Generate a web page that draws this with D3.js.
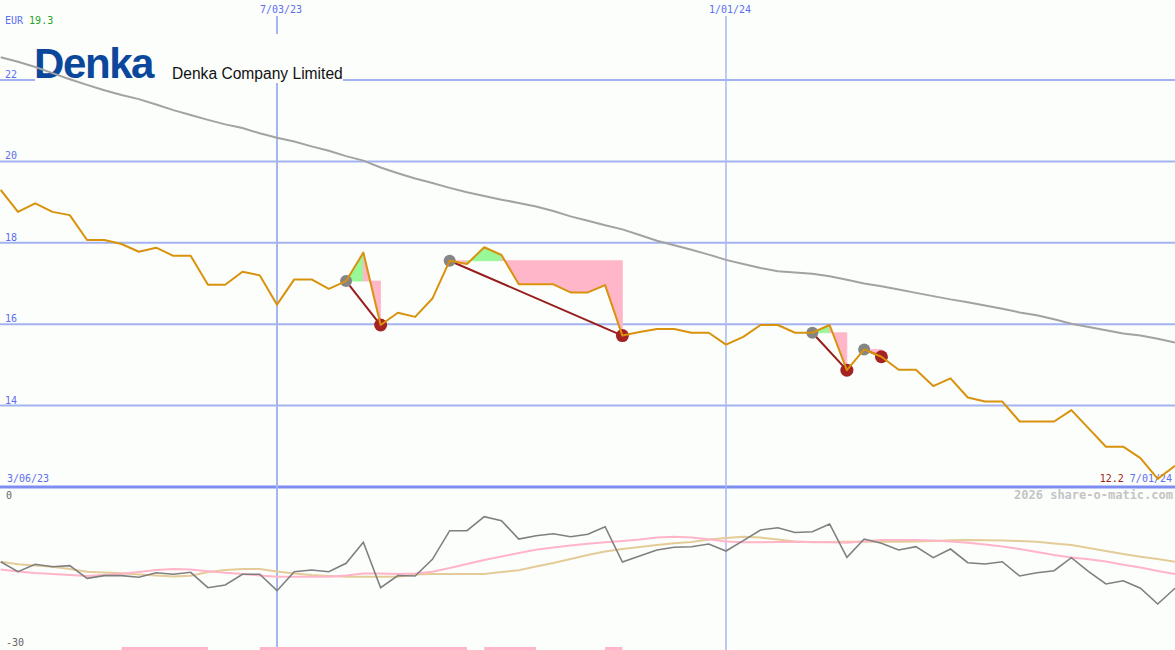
<!DOCTYPE html>
<html>
<head>
<meta charset="utf-8">
<script src="https://cdn.jsdelivr.net/npm/d3@7"></script>
<style>
html,body{margin:0;padding:0;background:#fcfefc;}
svg{display:block;}
</style>
</head>
<body>
<svg id="chart" width="1175" height="650"></svg>
<script>
// ---------- DATA ----------
const rangeStart = "2023-03-06";
const rangeEnd = "2024-07-01";
const firstWeek = "2023-03-13";
const markerDates = ["2023-07-03", "2024-01-01"];
const priceTicks = [14, 16, 18, 20, 22];
const lowerTicks = [0, -30];
const currency = "EUR";
const maxLabel = "19.3";
const minLabel = "12.2";

// weekly closing price (EUR)
const price = [19.30,18.76,18.97,18.76,18.68,18.07,18.07,17.97,17.78,17.88,
  17.68,17.68,16.97,16.97,17.29,17.20,16.48,17.10,17.10,16.87,
  17.06,17.76,15.98,16.28,16.18,16.63,17.56,17.48,17.89,17.70,
  16.98,16.98,16.98,16.78,16.78,16.96,15.72,15.81,15.88,15.88,
  15.79,15.79,15.50,15.69,15.98,15.98,15.79,15.79,15.98,14.87,
  15.38,15.20,14.88,14.88,14.48,14.67,14.20,14.10,14.10,13.61,
  13.61,13.61,13.89,13.44,12.99,12.99,12.71,12.20,12.52];

// long moving average
const movingAvg = [22.56,22.45,22.32,22.17,22.02,21.88,21.75,21.63,21.53,21.40,
  21.26,21.14,21.02,20.91,20.82,20.69,20.58,20.49,20.37,20.26,
  20.13,20.02,19.85,19.71,19.58,19.47,19.35,19.24,19.15,19.06,
  18.98,18.89,18.78,18.65,18.54,18.43,18.33,18.19,18.05,17.94,
  17.83,17.71,17.58,17.48,17.38,17.30,17.27,17.24,17.18,17.09,
  17.00,16.93,16.85,16.77,16.69,16.61,16.54,16.46,16.38,16.29,
  16.22,16.12,16.01,15.93,15.85,15.77,15.72,15.64,15.55];

// lower panel indicator
const oscillator = [-13.55,-15.41,-14.03,-14.48,-14.29,-16.64,-16.15,-16.15,-16.45,-15.60,
  -15.89,-15.52,-18.39,-17.89,-15.89,-15.89,-18.95,-15.41,-15.09,-15.41,
  -13.84,-9.93,-18.39,-16.12,-16.21,-13.10,-7.77,-7.77,-5.16,-5.91,
  -9.32,-8.70,-8.33,-8.89,-8.44,-7.02,-13.60,-12.48,-11.37,-10.86,
  -10.75,-10.25,-11.55,-9.63,-7.64,-7.21,-8.11,-7.96,-6.52,-12.73,
  -9.32,-10.12,-11.37,-10.75,-12.80,-11.18,-13.73,-13.97,-13.55,-16.21,
  -15.60,-15.22,-12.80,-15.41,-17.70,-17.09,-18.50,-21.43,-18.50];

const oscPink = [-14.98,-15.37,-15.65,-15.84,-16.02,-16.21,-16.02,-15.78,-15.46,-15.09,
  -14.91,-15.00,-15.33,-15.61,-15.84,-16.12,-16.34,-16.34,-16.34,-16.34,
  -16.12,-15.74,-15.74,-15.84,-15.74,-15.43,-14.72,-13.97,-13.23,-12.58,
  -11.92,-11.33,-10.90,-10.53,-10.21,-9.93,-9.69,-9.41,-9.04,-8.91,
  -9.04,-9.37,-9.78,-9.93,-9.93,-9.88,-9.84,-9.88,-9.93,-10.01,
  -9.74,-9.50,-9.50,-9.50,-9.60,-9.78,-10.01,-10.34,-10.71,-11.18,
  -11.74,-12.30,-12.76,-13.10,-13.51,-14.12,-14.63,-15.28,-15.84];

const oscTan = [-13.56,-14.03,-14.25,-14.48,-14.91,-15.41,-15.56,-15.71,-15.93,-16.12,
  -16.30,-16.17,-15.46,-15.09,-14.91,-14.91,-15.37,-15.74,-16.02,-16.21,
  -16.34,-16.34,-16.34,-16.34,-15.93,-15.84,-15.84,-15.84,-15.84,-15.46,
  -15.15,-14.44,-13.79,-13.04,-12.30,-11.65,-11.18,-10.81,-10.43,-10.12,
  -9.88,-9.41,-9.13,-8.91,-9.04,-9.41,-9.78,-9.91,-9.88,-9.84,
  -9.82,-9.82,-9.82,-9.78,-9.69,-9.56,-9.50,-9.56,-9.60,-9.69,
  -9.84,-10.15,-10.43,-10.99,-11.55,-12.11,-12.61,-13.04,-13.55];

// trades: entry / exit week
const tradeEntries = ["2023-07-31", "2023-09-11", "2024-02-05", "2024-02-26"];
const tradeExits   = ["2023-08-14", "2023-11-20", "2024-02-19", "2024-03-04"];

// bottom signal bars
const barStarts = ["2023-05-01", "2023-06-26", "2023-09-25", "2023-11-13"];
const barEnds   = ["2023-06-05", "2023-09-18", "2023-10-16", "2023-11-20"];

// ---------- DRAW ----------
const W = 1175, H = 650;
const parse = d3.utcParse("%Y-%m-%d");
const fmt = d3.utcFormat("%-m/%d/%y");
const weeks = d3.utcMonday.range(parse(firstWeek), d3.utcDay.offset(parse(rangeEnd), 1));
const svg = d3.select("#chart");

const x = d3.scaleUtc().domain([parse(markerDates[0]), parse(markerDates[1])]).range([277, 726]);
const y = d3.scaleLinear().domain([12, 22]).range([487, 80]);
const yl = d3.scaleLinear().domain([-30, 0]).range([650, 489]);

const mono = "'DejaVu Sans Mono', monospace";
const blue = "#5b6ff0";

svg.append("rect").attr("width", W).attr("height", H).attr("fill", "#fcfefc");

// horizontal grid
svg.append("g").selectAll("line").data(priceTicks).join("line")
  .attr("x1", 0).attr("x2", W).attr("y1", d => y(d)).attr("y2", d => y(d))
  .attr("stroke", "#a4b3f0").attr("stroke-width", 2);
// bottom axis line
svg.append("line").attr("x1", 0).attr("x2", W).attr("y1", y(12)).attr("y2", y(12))
  .attr("stroke", "#7d8df2").attr("stroke-width", 3);

// vertical markers
svg.append("g").selectAll("line").data(markerDates).join("line")
  .attr("x1", d => x(parse(d))).attr("x2", d => x(parse(d)))
  .attr("y1", 16).attr("y2", H)
  .attr("stroke", "#a8b6f0").attr("stroke-width", (d, i) => i === 0 ? 2 : 1.5);
svg.append("g").selectAll("text").data(markerDates).join("text")
  .attr("x", d => x(parse(d)) - 17).attr("y", 13)
  .attr("font-family", mono).attr("font-size", 10).attr("fill", blue)
  .text(d => fmt(parse(d)));

// y tick labels
svg.append("g").selectAll("text").data(priceTicks).join("text")
  .attr("x", 5).attr("y", d => y(d) - 2)
  .attr("font-family", mono).attr("font-size", 10).attr("fill", blue)
  .text(d => d);

// header labels
const hdr = svg.append("text").attr("x", 5).attr("y", 24).attr("font-family", mono).attr("font-size", 10);
hdr.append("tspan").attr("fill", blue).text(currency + " ");
hdr.append("tspan").attr("fill", "#26a326").text(maxLabel);

// logo box
svg.append("rect").attr("x", 35).attr("y", 34).attr("width", 308).attr("height", 49).attr("fill", "#fcfefc");
svg.append("text").attr("x", 34).attr("y", 78)
  .attr("font-family", "'Liberation Sans', Arial, sans-serif").attr("font-weight", "bold")
  .attr("font-size", 42).attr("letter-spacing", -1.4).attr("fill", "#0b489c").text("Denka");
svg.append("text").attr("x", 172).attr("y", 79)
  .attr("font-family", "'Liberation Sans', Arial, sans-serif")
  .attr("font-size", 15.6).attr("fill", "#111").text("Denka Company Limited");

// range labels
svg.append("text").attr("x", 7).attr("y", 482).attr("font-family", mono).attr("font-size", 10)
  .attr("fill", blue).text(fmt(parse(rangeStart)));
const rl = svg.append("text").attr("x", 1172).attr("y", 482).attr("text-anchor", "end")
  .attr("font-family", mono).attr("font-size", 10);
rl.append("tspan").attr("fill", "#a02020").text(minLabel + " ");
rl.append("tspan").attr("fill", blue).text(fmt(parse(rangeEnd)));
svg.append("text").attr("x", 1173).attr("y", 499).attr("text-anchor", "end")
  .attr("font-family", mono).attr("font-size", 12).attr("font-weight", "bold")
  .attr("fill", "#c4c4c4").text("2026 share-o-matic.com");

// moving average
const lineP = d3.line().x((d, i) => x(weeks[i])).y(d => y(d));
svg.append("path").datum(movingAvg).attr("d", lineP)
  .attr("fill", "none").attr("stroke", "#a2a2a2").attr("stroke-width", 2);

// trades
const idx = s => weeks.findIndex(w => +w === +parse(s));
const trades = tradeEntries.map((e, i) => ({ a: idx(e), b: idx(tradeExits[i]) }));
const fillG = svg.append("g");
trades.forEach(t => {
  const lvl = price[t.a];
  for (let k = t.a; k < t.b; k++) {
    const pts = [[x(weeks[k]), y(lvl)], [x(weeks[k + 1]), y(lvl)],
      [x(weeks[k + 1]), y(price[k + 1])], [x(weeks[k]), y(price[k])]];
    const col = price[k + 1] >= lvl ? "#98f898" : "#ffb6c9";
    fillG.append("path").attr("d", d3.line()(pts) + "Z")
      .attr("fill", col).attr("stroke", col).attr("stroke-width", 0.8)
      .attr("stroke-linejoin", "miter");
  }
});
svg.append("g").selectAll("line").data(trades).join("line")
  .attr("x1", t => x(weeks[t.a])).attr("y1", t => y(price[t.a]))
  .attr("x2", t => x(weeks[t.b])).attr("y2", t => y(price[t.b]))
  .attr("stroke", "#981c1c").attr("stroke-width", 2);
svg.append("g").selectAll("circle").data(trades).join("circle")
  .attr("cx", t => x(weeks[t.a])).attr("cy", t => y(price[t.a])).attr("r", 6)
  .attr("fill", "#858585");
svg.append("g").selectAll("circle").data(trades).join("circle")
  .attr("cx", t => x(weeks[t.b])).attr("cy", t => y(price[t.b])).attr("r", 6.5)
  .attr("fill", "#a52222");

// price line
svg.append("path").datum(price).attr("d", lineP)
  .attr("fill", "none").attr("stroke", "#d8920c").attr("stroke-width", 2)
  .attr("stroke-linejoin", "round");

// lower panel
svg.append("g").selectAll("text").data(lowerTicks).join("text")
  .attr("x", 6).attr("y", d => d === 0 ? 499 : 646)
  .attr("font-family", mono).attr("font-size", 10).attr("fill", "#666")
  .text(d => d);
const lineL = d3.line().x((d, i) => x(weeks[i])).y(d => yl(d));
svg.append("path").datum(oscTan).attr("d", lineL).attr("fill", "none")
  .attr("stroke", "#e4cc98").attr("stroke-width", 2);
svg.append("path").datum(oscPink).attr("d", lineL).attr("fill", "none")
  .attr("stroke", "#ffb4c8").attr("stroke-width", 2);
svg.append("path").datum(oscillator).attr("d", lineL).attr("fill", "none")
  .attr("stroke", "#7f7f7f").attr("stroke-width", 1.6);

svg.append("g").selectAll("rect").data(barStarts).join("rect")
  .attr("x", d => x(parse(d)))
  .attr("width", (d, i) => x(parse(barEnds[i])) - x(parse(d)))
  .attr("y", 647).attr("height", 3).attr("fill", "#ffb6c9");
</script>
</body>
</html>
